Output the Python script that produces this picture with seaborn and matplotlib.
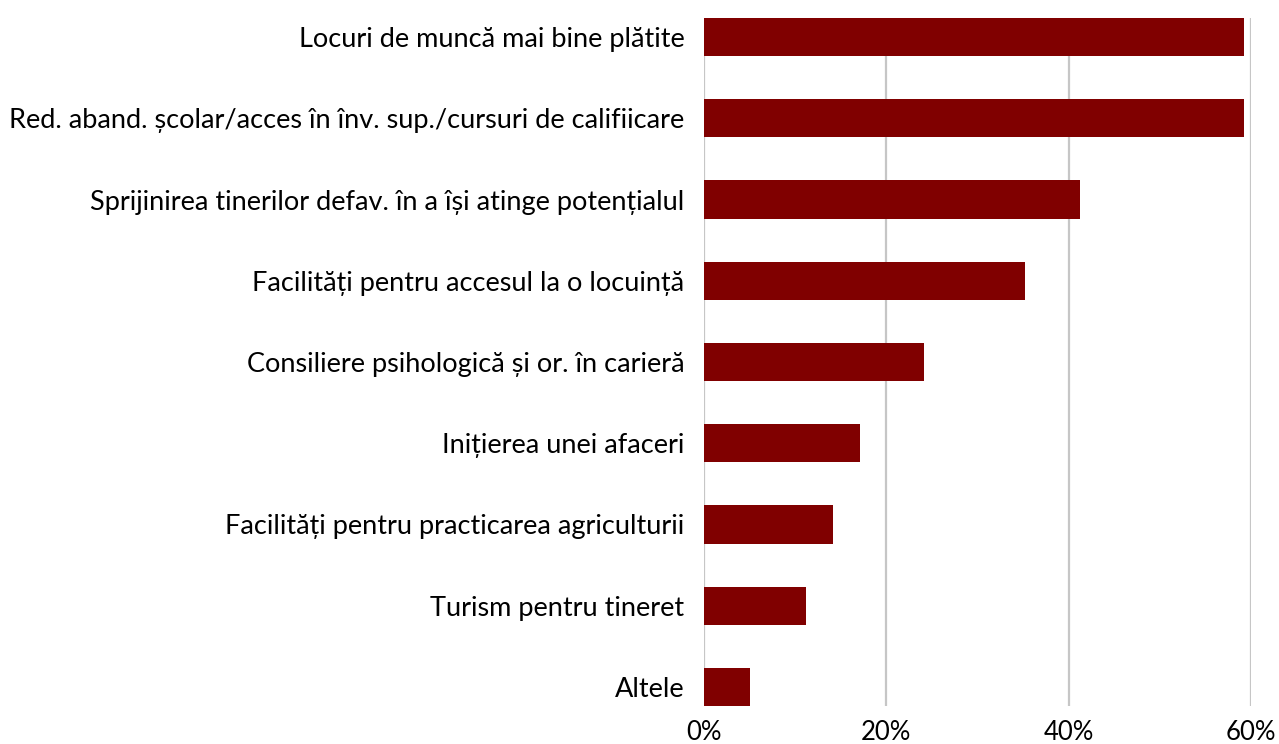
import pandas as pd
import matplotlib.pyplot as plt
import seaborn as sns

sns.set_theme(style="white")
plt.rcParams['font.family'] = ['Lato', 'DejaVu Sans']

categories = ['Locuri de muncă mai bine plătite',
              'Red. aband. școlar/acces în înv. sup./cursuri de califiicare',
              'Sprijinirea tinerilor defav. în a își atinge potențialul',
              'Facilități pentru accesul la o locuință',
              'Consiliere psihologică și or. în carieră',
              'Inițierea unei afaceri',
              'Facilități pentru practicarea agriculturii',
              'Turism pentru tineret',
              'Altele']
values = [0.592, 0.592, 0.412, 0.352, 0.241, 0.171, 0.142, 0.112, 0.051]
xticks = [0, 0.2, 0.4, 0.6]
xtick_labels = ['0%', '20%', '40%', '60%']

df = pd.DataFrame({'cat': categories, 'val': values})

fig = plt.figure(figsize=(12.79, 7.44), dpi=100)
ax = fig.add_axes([704 / 1279, 38 / 744, (1251 - 704) / 1279, (706 - 18) / 744])

sns.barplot(data=df, y='cat', x='val', color='#800000', width=0.47,
            saturation=1, linewidth=0, ax=ax, zorder=2)

ax.set_xlim(0, 0.6)
ax.set_ylim(8.235, -0.235)
ax.set_xticks(xticks)
ax.set_xticklabels(xtick_labels)
ax.xaxis.grid(True, color='#c6c6c6', linewidth=1.6, zorder=0)
ax.set_axisbelow(True)
ax.set(xlabel='', ylabel='')
ax.tick_params(axis='both', length=0, colors='black')
ax.tick_params(axis='y', pad=14, labelsize=19.5)
ax.tick_params(axis='x', pad=10, labelsize=18.5)
sns.despine(ax=ax, left=True, bottom=True)

fig.savefig('out.png', dpi=100)
